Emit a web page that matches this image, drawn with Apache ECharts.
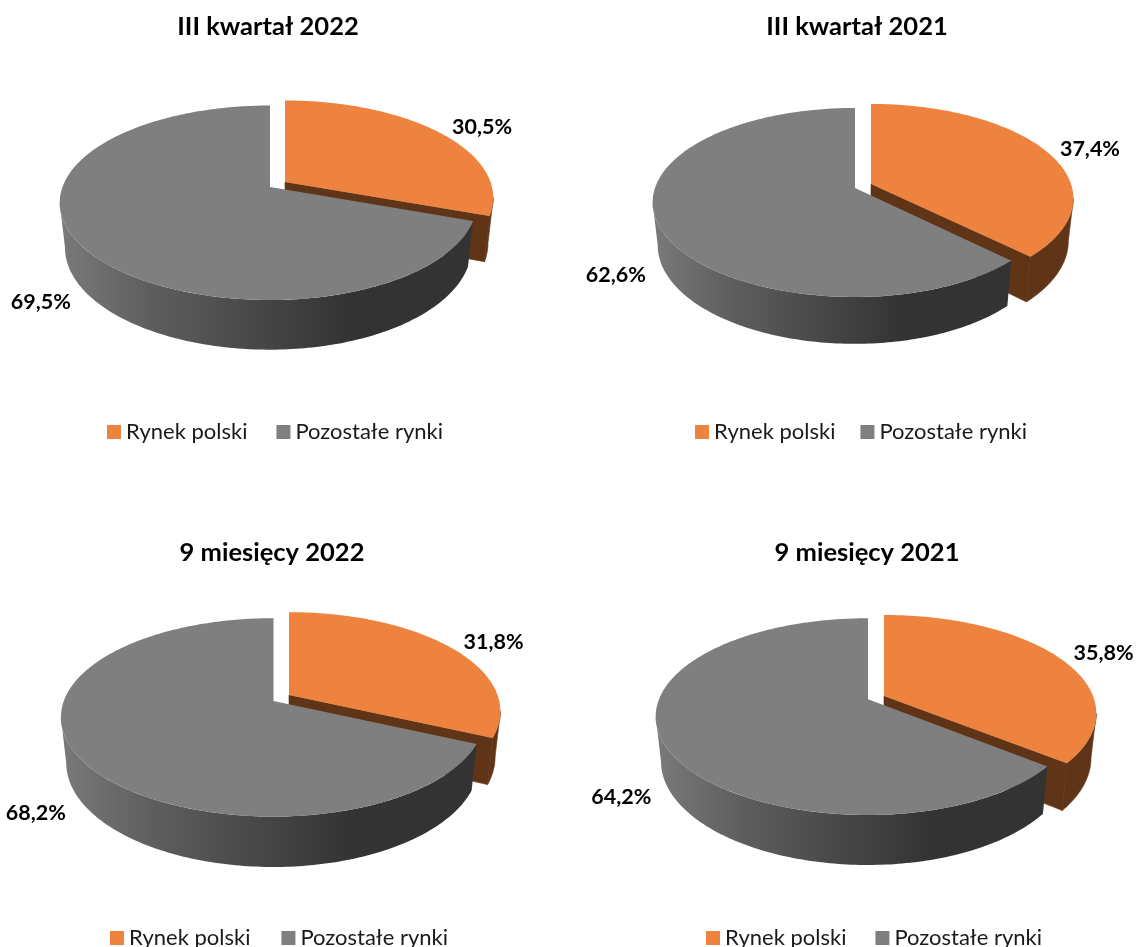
<!DOCTYPE html>
<html>
<head>
<meta charset="utf-8">
<style>html,body{margin:0;padding:0;background:#fff}#c{width:1136px;height:947px}</style>
<script src="https://cdn.jsdelivr.net/npm/echarts@6/dist/echarts.min.js"></script>
</head>
<body>
<div id="c"></div>
<script>
const panelTitles = ['III kwartał 2022', 'III kwartał 2021', '9 miesięcy 2022', '9 miesięcy 2021'];
const categories = ['Rynek polski', 'Pozostałe rynki'];
const polishMarket = [30.5, 37.4, 31.8, 35.8];
const otherMarkets = [69.5, 62.6, 68.2, 64.2];

const ORANGE = '#ED833F', BROWN = '#5F3417', GREY = '#7F7F7F';

// layout of each 3D pie (perspective parameters and label nudges)
const panels = [
  {o:{cx:285, cy:182, rr:205.5, rl:205.5}, g:{cx:270, cy:187, rr:204, rl:207.5}, ry:94.7, p:.162, h:44, ol:[43.2,-5.2], gl:[-42,55], tx:268, ty:14, lx:107, ly:421, gap:29},
  {o:{cx:871, cy:184, rr:200, rl:200}, g:{cx:855, cy:188, rr:196, rl:200}, ry:92.3, p:.153, h:42, ol:[44.7,-1.4], gl:[-43,49], tx:857, ty:14, lx:695, ly:421, gap:25},
  {o:{cx:289, cy:695, rr:208.5, rl:208.5}, g:{cx:273.5, cy:701, rr:208, rl:209.7}, ry:96.5, p:.165, h:44.5, ol:[43.5,-5], gl:[-44,54.5], tx:272, ty:540, lx:110, ly:927, gap:31},
  {o:{cx:884, cy:696, rr:209, rl:209}, g:{cx:868, cy:699.3, rr:205, rl:209}, ry:95.3, p:.176, h:43.6, ol:[44.4,-5], gl:[-42.6,53.5], tx:867, ty:540, lx:706, ly:927, gap:29}
];

function rim(L, S, deg, bottom) {
  const t = deg * Math.PI / 180, u = Math.sin(t), v = -Math.cos(t), w = 1 - L.p * v;
  const x = (u > 0 ? S.rr : S.rl) * u / w, y = L.ry * v / w;
  return bottom ? [S.cx + x * .975, S.cy + y * .975 + L.h / w] : [S.cx + x, S.cy + y];
}
function arc(L, S, a, b, bottom) {
  const pts = [], n = Math.max(8, Math.ceil(Math.abs(b - a)));
  for (let i = 0; i <= n; i++) pts.push(rim(L, S, a + (b - a) * i / n, bottom));
  return pts;
}
// angle at which the rim is tangent to the vertical: walls are only seen in front of it
function tangent(L) { return Math.acos(-L.p) * 180 / Math.PI; }
function wall(L, S, a, b) {
  return arc(L, S, a, b, false).concat(arc(L, S, b, a, true));
}
function pct(v) { return v.toFixed(1).replace('.', ',') + '%'; }
function labelEl(L, S, deg, off, val) {
  const q = rim(L, S, deg, false);
  return {type:'text', style:{text:pct(val), x:q[0]+off[0], y:q[1]+off[1], textAlign:'center', textVerticalAlign:'middle',
    fill:'#000', font:'bold 21.5px Lato'}};
}
function orangeItem(L) {
  const S = L.o;
  return function (params, api) {
    const val = api.value(0), end = val * 3.6;
    const e1 = rim(L, S, end, false), e2 = rim(L, S, end, true);
    const side = {fill:BROWN, stroke:BROWN, lineWidth:.6};
    return {type:'group', children:[
      {type:'polygon', shape:{points:wall(L, S, Math.min(tangent(L), end), end)}, style:side},
      {type:'polygon', shape:{points:[[S.cx,S.cy], e1, e2, [S.cx,S.cy+L.h]]}, style:side},
      {type:'polygon', shape:{points:[[S.cx,S.cy]].concat(arc(L, S, 0, end, false))}, style:{fill:ORANGE}},
      labelEl(L, S, end / 2, L.ol, val)
    ]};
  };
}
function greyItem(L) {
  const S = L.g;
  return function (params, api) {
    const val = api.value(0), start = (100 - val) * 3.6;
    return {type:'group', children:[
      {type:'polygon', shape:{points:wall(L, S, start, 360 - tangent(L))}, style:{fill:new echarts.graphic.LinearGradient(0,0,1,0,[
        {offset:0,color:'#7a7a7a'},{offset:.22,color:'#5e5e5e'},{offset:.5,color:'#454545'},{offset:.7,color:'#333333'},{offset:1,color:'#333333'}])}},
      {type:'polygon', shape:{points:[[S.cx,S.cy]].concat(arc(L, S, start, 360, false))}, style:{fill:GREY}},
      labelEl(L, S, start + val * 1.8, L.gl, val)
    ]};
  };
}

const series = [];
panels.forEach((L, i) => {
  series.push({type:'custom', name:categories[0], coordinateSystem:'none', silent:true, itemStyle:{color:ORANGE},
    data:[[polishMarket[i]]], renderItem:orangeItem(L)});
  series.push({type:'custom', name:categories[1], coordinateSystem:'none', silent:true, itemStyle:{color:GREY},
    data:[[otherMarkets[i]]], renderItem:greyItem(L)});
});

const chart = echarts.init(document.getElementById('c'), null, {renderer:'canvas'});
chart.setOption({
  animation:false,
  backgroundColor:'#fff',
  title: panels.map((L, i) => ({text:panelTitles[i], left:L.tx, top:L.ty, textAlign:'center', padding:0,
    textStyle:{fontFamily:'Lato', fontWeight:'bold', fontSize:25.5, color:'#000'}})),
  legend: panels.map(L => ({data:categories, left:L.lx, top:L.ly, orient:'horizontal', padding:0, icon:'rect', itemWidth:14, itemHeight:14,
    itemGap:L.gap, selectedMode:false, textStyle:{fontFamily:'Lato', fontSize:22, color:'#1a1a1a'}})),
  series
});
</script>
</body>
</html>
